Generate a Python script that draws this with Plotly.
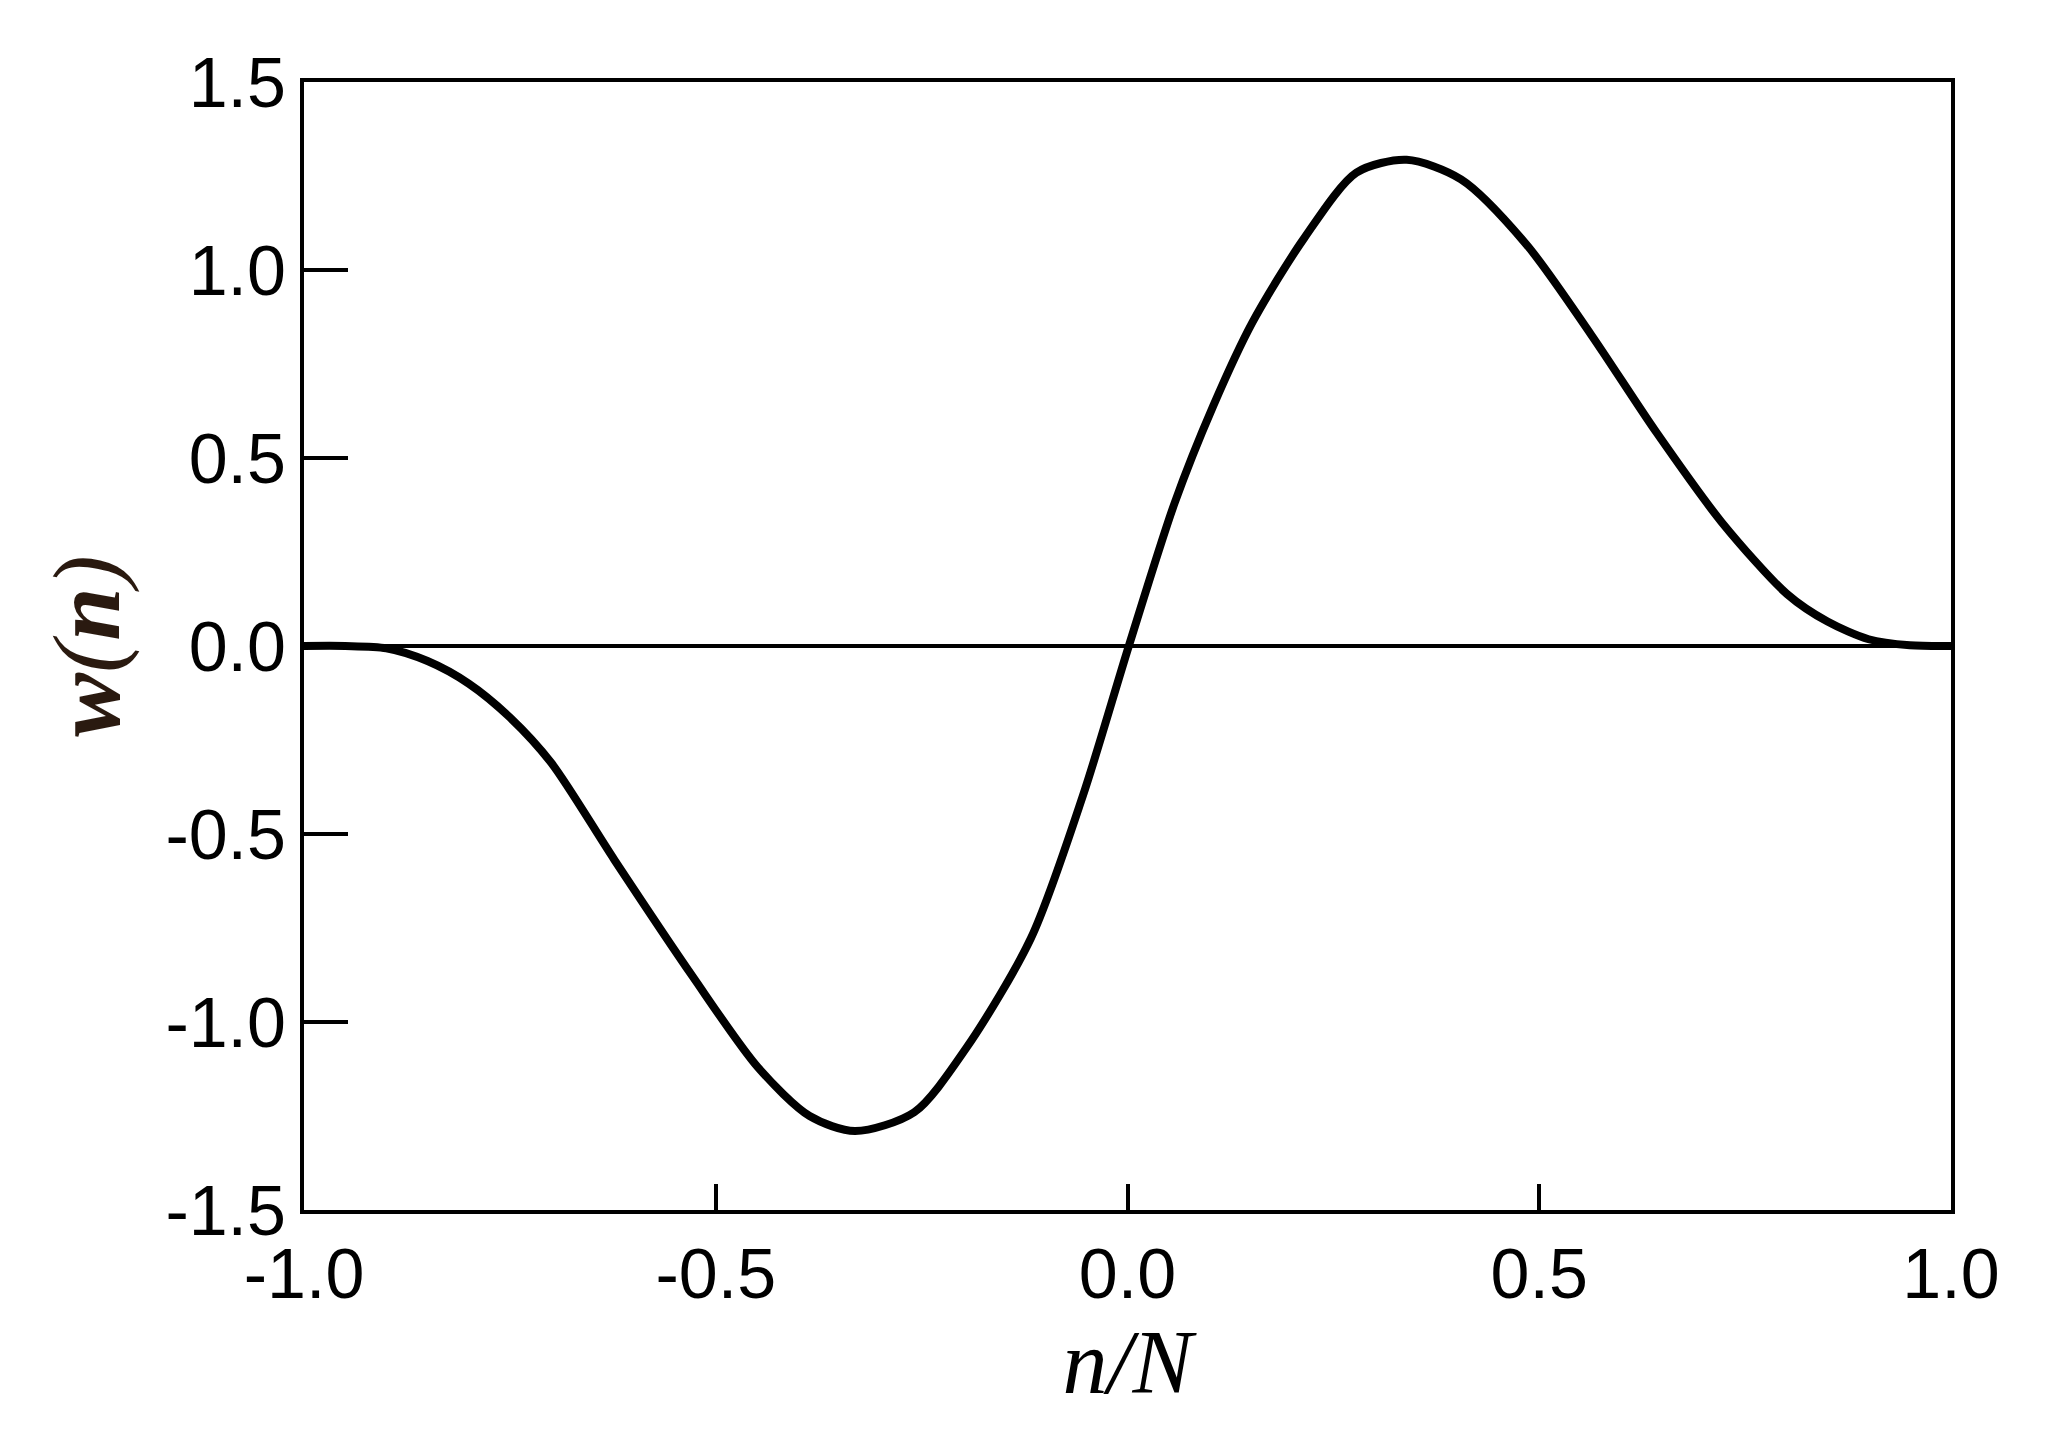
import plotly.graph_objects as go

x_vals = [-1.0, -0.95, -0.9, -0.85, -0.8, -0.75, -0.7, -0.623, -0.528, -0.449, -0.386, -0.331, -0.259, -0.196,
          -0.117, -0.054, 0.0016, 0.057, 0.104, 0.152, 0.215, 0.278, 0.339, 0.405, 0.484, 0.563,
          0.642, 0.722, 0.801, 0.85, 0.9, 0.95, 1.0]
w_vals = [0.0, 0.0, -0.006, -0.04, -0.10, -0.19, -0.31, -0.569, -0.879, -1.12, -1.25, -1.29, -1.24, -1.07,
          -0.776, -0.397, 0.0, 0.379, 0.638, 0.862, 1.086, 1.259, 1.293, 1.241, 1.069, 0.828,
          0.569, 0.328, 0.138, 0.065, 0.018, 0.002, 0.0]
x_ticks = [-1.0, -0.5, 0.0, 0.5, 1.0]
y_ticks = [-1.5, -1.0, -0.5, 0.0, 0.5, 1.0, 1.5]

fig = go.Figure(go.Scatter(x=x_vals, y=w_vals, mode="lines", line=dict(color="black", width=8, shape="spline", smoothing=0.8)))
fig.update_layout(
    width=2045, height=1445, plot_bgcolor="white", paper_bgcolor="white",
    margin=dict(l=296, r=102, t=74, b=243), showlegend=False,
    font=dict(family="Liberation Sans, Arial", size=70, color="black"),
)
fig.update_xaxes(range=[-1, 1], tickvals=x_ticks, ticktext=[f"{v:.1f}" for v in x_ticks],
                 ticks="inside", ticklen=26, tickwidth=4, tickcolor="black",
                 showline=True, linewidth=4, linecolor="black", mirror=True, showgrid=False, zeroline=False,
                 title=dict(text="<i>n/N</i>", font=dict(family="Liberation Serif, Times New Roman", size=90), standoff=10))
fig.update_yaxes(range=[-1.5, 1.5], tickvals=y_ticks, ticktext=[f"{v:.1f}" for v in y_ticks],
                 ticks="inside", ticklen=44, tickwidth=4, tickcolor="black",
                 showline=True, linewidth=4, linecolor="black", mirror=True, showgrid=False,
                 zeroline=True, zerolinecolor="black", zerolinewidth=4,
                 title=dict(text="<i><b>w</b>(<b>n</b>)</i>", font=dict(family="Liberation Serif, Times New Roman", size=96, color="#2a1a10"), standoff=15))
fig.write_html("out.html")
